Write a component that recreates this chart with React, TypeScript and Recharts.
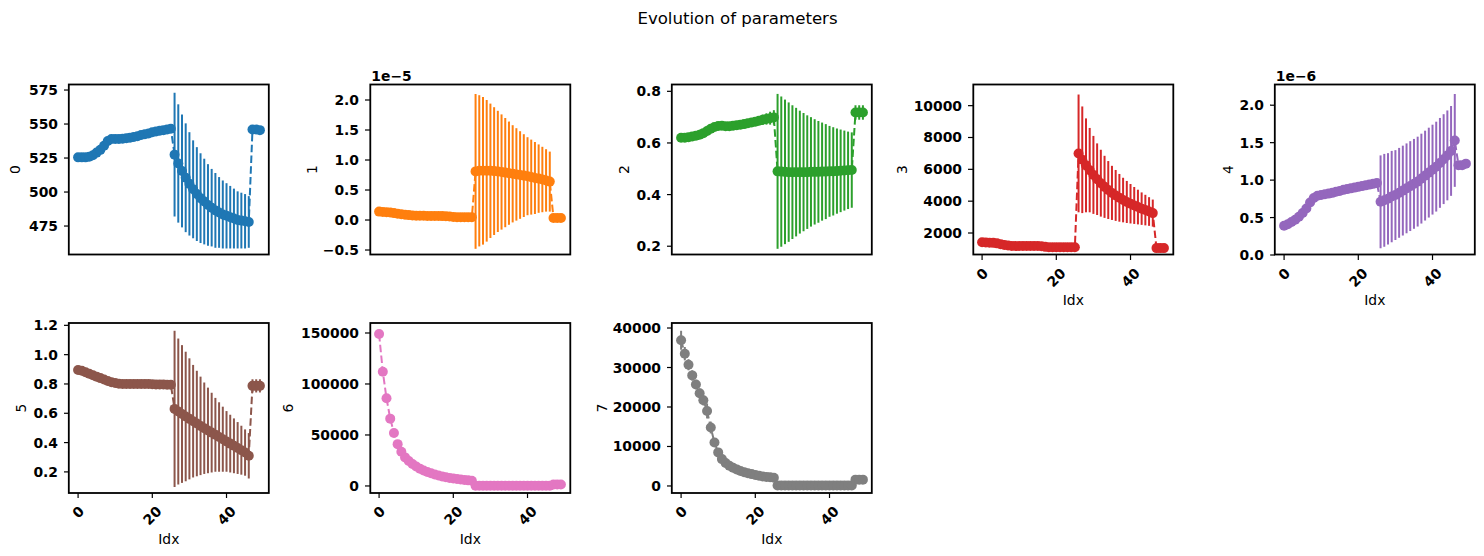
import { ComposedChart, Line, XAxis, YAxis, ErrorBar } from "recharts"

// sample index (x axis) for every parameter trace
const idx = Array.from({ length: 50 }, (_, i) => i)

// parameter traces; 1 is in units of 1e-5, 4 in units of 1e-6
const p0 = [
  525.5, 525.5, 525.5, 526, 527, 529, 531, 534, 537.5, 539,
  539, 539, 539.2, 539.5, 540, 540.5, 541, 542, 542.5, 543,
  544, 544.5, 545, 545.5, 546, 546.5,
  527.5, 521, 515.5, 510.5, 506, 502, 498.5, 495.5, 493, 490.5, 488.5,
  486.5, 485, 483.5, 482.5, 481.5, 480.5, 479.5, 479, 478.5, 478,
  546, 546, 545.5,
]
const p0Err = [
  0, 0, 0, 0, 0, 0, 0, 0, 0, 0,
  0, 0, 0, 0, 0, 0, 0, 0, 0, 0,
  0, 0, 0, 0, 0, 0,
  45.5, 43.5, 41.5, 40, 38, 36, 34.5, 33, 31.5, 30, 28.5,
  27.5, 26, 25, 24, 23, 22, 21, 20.5, 20, 19,
  0, 0, 0,
]

const p1 = [
  0.14, 0.135, 0.13, 0.125, 0.115, 0.105, 0.095, 0.088, 0.082, 0.077,
  0.073, 0.07, 0.07, 0.068, 0.068, 0.067, 0.066, 0.065, 0.063, 0.06,
  0.052, 0.048, 0.046, 0.045, 0.045, 0.045,
  0.81, 0.82, 0.82, 0.82, 0.82, 0.815, 0.81, 0.8, 0.79, 0.78, 0.77,
  0.76, 0.75, 0.74, 0.73, 0.715, 0.7, 0.69, 0.675, 0.66, 0.64,
  0.035, 0.035, 0.035,
]
const p1Err = [
  0, 0, 0, 0, 0, 0, 0, 0, 0, 0,
  0, 0, 0, 0, 0, 0, 0, 0, 0, 0,
  0, 0, 0, 0, 0, 0,
  1.29, 1.26, 1.23, 1.18, 1.12, 1.065, 1.01, 0.96, 0.91, 0.86, 0.81,
  0.77, 0.73, 0.69, 0.65, 0.625, 0.6, 0.57, 0.545, 0.52, 0.5,
  0, 0, 0,
]

const p2 = [
  0.62, 0.62, 0.622, 0.625, 0.628, 0.632, 0.638, 0.646, 0.655, 0.662,
  0.666, 0.667, 0.665, 0.665, 0.667, 0.669, 0.671, 0.673, 0.676, 0.679,
  0.682, 0.686, 0.69, 0.693, 0.696, 0.699,
  0.49, 0.489, 0.488, 0.487, 0.487, 0.487, 0.487, 0.487, 0.487, 0.488, 0.488,
  0.488, 0.489, 0.489, 0.49, 0.49, 0.491, 0.492, 0.493, 0.494, 0.495,
  0.718, 0.718, 0.718,
]
const p2Err = [
  0, 0, 0, 0, 0, 0, 0, 0, 0, 0,
  0, 0, 0, 0, 0, 0, 0, 0, 0, 0,
  0, 0.015, 0.02, 0.022, 0.025, 0.028,
  0.3, 0.291, 0.28, 0.27, 0.259, 0.249, 0.238, 0.229, 0.22, 0.212, 0.204,
  0.197, 0.19, 0.184, 0.176, 0.171, 0.165, 0.16, 0.155, 0.15, 0.146,
  0.028, 0.028, 0.028,
]

const p3 = [
  1420, 1400, 1390, 1380, 1350, 1300, 1250, 1210, 1190, 1180,
  1180, 1180, 1180, 1180, 1180, 1180, 1170, 1130, 1110, 1100,
  1100, 1100, 1100, 1100, 1100, 1100,
  7000, 6600, 6250, 5950, 5650, 5380, 5130, 4900, 4700, 4520, 4360,
  4210, 4070, 3950, 3840, 3730, 3630, 3530, 3440, 3350, 3250,
  1050, 1050, 1050,
]
const p3Err = [
  0, 0, 0, 0, 0, 0, 0, 0, 0, 0,
  0, 0, 0, 0, 0, 0, 0, 0, 0, 0,
  0, 0, 0, 0, 0, 0,
  3700, 3350, 2950, 2650, 2450, 2250, 2100, 1950, 1820, 1700, 1600,
  1500, 1400, 1320, 1240, 1160, 1090, 1020, 960, 900, 850,
  0, 0, 0,
]

const p4 = [
  0.39, 0.41, 0.44, 0.47, 0.51, 0.56, 0.62, 0.7, 0.76, 0.79,
  0.8, 0.81, 0.82, 0.83, 0.845, 0.855, 0.87, 0.88, 0.89, 0.9,
  0.91, 0.92, 0.93, 0.94, 0.95, 0.96,
  0.71, 0.73, 0.75, 0.78, 0.8, 0.83, 0.86, 0.89, 0.92, 0.95, 0.98,
  1.02, 1.06, 1.1, 1.14, 1.18, 1.23, 1.28, 1.33, 1.39, 1.53,
  1.2, 1.2, 1.22,
]
const p4Err = [
  0, 0, 0, 0, 0, 0, 0, 0, 0, 0,
  0, 0, 0, 0, 0, 0, 0, 0, 0, 0,
  0, 0, 0, 0, 0, 0,
  0.62, 0.62, 0.61, 0.61, 0.6, 0.6, 0.6, 0.6, 0.6, 0.6, 0.6,
  0.6, 0.6, 0.6, 0.6, 0.6, 0.6, 0.6, 0.6, 0.6, 0.62,
  0, 0, 0,
]

const p5 = [
  0.895, 0.89, 0.88, 0.87, 0.86, 0.85, 0.84, 0.83, 0.82, 0.812,
  0.806, 0.802, 0.8, 0.8, 0.8, 0.8, 0.8, 0.8, 0.8, 0.8,
  0.798, 0.797, 0.796, 0.796, 0.795, 0.795,
  0.63, 0.612, 0.595, 0.578, 0.562, 0.546, 0.53, 0.514, 0.498, 0.483, 0.468,
  0.453, 0.438, 0.423, 0.408, 0.393, 0.378, 0.363, 0.348, 0.332, 0.31,
  0.787, 0.787, 0.787,
]
const p5Err = [
  0, 0, 0, 0, 0, 0, 0, 0, 0, 0,
  0, 0, 0, 0, 0, 0, 0, 0, 0, 0,
  0, 0, 0, 0, 0, 0,
  0.533, 0.498, 0.47, 0.442, 0.413, 0.384, 0.36, 0.336, 0.312, 0.292, 0.272,
  0.252, 0.237, 0.222, 0.207, 0.197, 0.187, 0.177, 0.167, 0.158, 0.155,
  0.045, 0.045, 0.045,
]

const p6 = [
  149000, 112000, 86000, 66000, 52000, 41000, 33500, 28000, 24500, 21500,
  19000, 17000, 15200, 13700, 12400, 11300, 10300, 9400, 8600, 7900,
  7300, 6800, 6300, 5900, 5500, 5100,
  300, 300, 300, 300, 300, 300, 300, 300, 300, 300, 300,
  300, 300, 300, 300, 300, 300, 300, 300, 300, 300,
  1500, 1500, 1500,
]
const p6Err = [
  0, 0, 0, 0, 0, 0, 0, 0, 0, 0,
  0, 0, 0, 0, 0, 0, 0, 0, 0, 0,
  0, 0, 0, 0, 0, 0,
  0, 0, 0, 0, 0, 0, 0, 0, 0, 0, 0,
  0, 0, 0, 0, 0, 0, 0, 0, 0, 0,
  0, 0, 0,
]

const p7 = [
  36900, 33500, 30700, 28000, 25700, 23500, 21700, 19000, 14800, 11000,
  8500, 6800, 5800, 5100, 4600, 4200, 3800, 3500, 3200, 3000,
  2800, 2600, 2400, 2300, 2200, 2100,
  100, 100, 100, 100, 100, 100, 100, 100, 100, 100, 100,
  100, 100, 100, 100, 100, 100, 100, 100, 100, 100,
  1600, 1600, 1600,
]
const p7Err = [
  2400, 1700, 1400, 1300, 1200, 1200, 1300, 1900, 1500, 1000,
  700, 500, 0, 0, 0, 0, 0, 0, 0, 0,
  0, 0, 0, 0, 0, 0,
  0, 0, 0, 0, 0, 0, 0, 0, 0, 0, 0,
  0, 0, 0, 0, 0, 0, 0, 0, 0, 0,
  0, 0, 0,
]

const xTicks = [0, 20, 40]

const FONT = "DejaVu Sans"
const FS = 13.9
const PLOT_W = 200
const PLOT_H = 170
const ML = 75
const MR = 5
const MT = 10
const MB = 50

const fmtInt = (v: number) => String(v)
const fmt1 = (v: number) => (v < 0 ? "\u2212" + Math.abs(v).toFixed(1) : v.toFixed(1))

const panels = [
  { name: "0", values: p0, err: p0Err, color: "#1f77b4", domain: [453.7, 578.7], ticks: [475, 500, 525, 550, 575], fmt: fmtInt, left: 68.8, top: 84.5, xLabels: false, labelX: 15, offset: "" },
  { name: "1", values: p1, err: p1Err, color: "#ff7f0e", domain: [-0.583, 2.25], ticks: [-0.5, 0, 0.5, 1, 1.5, 2], fmt: fmt1, left: 370.3, top: 84.5, xLabels: false, labelX: 311.7, offset: "1e\u22125" },
  { name: "2", values: p2, err: p2Err, color: "#2ca02c", domain: [0.166, 0.8245], ticks: [0.2, 0.4, 0.6, 0.8], fmt: fmt1, left: 671.8, top: 84.5, xLabels: false, labelX: 624, offset: "" },
  { name: "3", values: p3, err: p3Err, color: "#d62728", domain: [618, 11298], ticks: [2000, 4000, 6000, 8000, 10000], fmt: fmtInt, left: 973.3, top: 84.5, xLabels: true, labelX: 902, offset: "" },
  { name: "4", values: p4, err: p4Err, color: "#9467bd", domain: [0, 2.27], ticks: [0, 0.5, 1, 1.5, 2], fmt: fmt1, left: 1274.8, top: 84.5, xLabels: true, labelX: 1227.5, offset: "1e\u22126" },
  { name: "5", values: p5, err: p5Err, color: "#8c564b", domain: [0.056, 1.216], ticks: [0.2, 0.4, 0.6, 0.8, 1, 1.2], fmt: fmt1, left: 68.8, top: 323, xLabels: true, labelX: 20.7, offset: "" },
  { name: "6", values: p6, err: p6Err, color: "#e377c2", domain: [-6900, 159800], ticks: [0, 50000, 100000, 150000], fmt: fmtInt, left: 370.3, top: 323, xLabels: true, labelX: 288, offset: "" },
  { name: "7", values: p7, err: p7Err, color: "#7f7f7f", domain: [-1780, 41270], ticks: [0, 10000, 20000, 30000, 40000], fmt: fmtInt, left: 671.8, top: 323, xLabels: true, labelX: 601.7, offset: "" },
]

// x tick label rotated 45deg, its bounding box centred under the tick
function RotatedTick(props: any) {
  const { x, y, payload } = props
  const s = String(payload.value)
  const w = s.length * 0.696 * FS
  const h = FS * 1.16
  const cy = y + (w + h) / (2 * Math.SQRT2)
  return (
    <text
      x={x}
      y={cy}
      textAnchor="middle"
      dominantBaseline="central"
      transform={`rotate(-45 ${x} ${cy})`}
      fontFamily={FONT}
      fontSize={FS}
      fontWeight="bold"
      fill="#000"
    >
      {s}
    </text>
  )
}

function YTick(props: any) {
  const { x, y, payload, fmt } = props
  return (
    <text x={x} y={y} textAnchor="end" dominantBaseline="central" fontFamily={FONT} fontSize={FS} fontWeight="bold" fill="#000">
      {fmt(payload.value)}
    </text>
  )
}

function Panel({ p }: { p: (typeof panels)[number] }) {
  const rows = idx.map((i) => ({ i, v: p.values[i], e: p.err[i] }))
  return (
    <div style={{ position: "absolute", left: p.left - ML, top: p.top - MT }}>
      <ComposedChart
        width={ML + PLOT_W + MR}
        height={MT + PLOT_H + MB}
        data={rows}
        margin={{ top: MT, right: MR, bottom: 0, left: 0 }}
      >
        <XAxis
          dataKey="i"
          type="number"
          domain={[-2.45, 51.45]}
          ticks={xTicks}
          interval={0}
          allowDataOverflow
          height={MB}
          axisLine={false}
          tickLine={{ stroke: "#000", strokeWidth: 1.2 }}
          tickSize={5}
          tickMargin={5}
          tick={p.xLabels ? <RotatedTick /> : false}
        />
        <YAxis
          type="number"
          domain={p.domain}
          ticks={p.ticks}
          interval={0}
          allowDataOverflow
          width={ML}
          axisLine={false}
          tickLine={{ stroke: "#000", strokeWidth: 1.2 }}
          tickSize={5}
          tickMargin={6}
          tick={(props: any) => <YTick {...props} fmt={p.fmt} />}
        />
        <Line
          type="linear"
          dataKey="v"
          stroke={p.color}
          strokeWidth={2}
          strokeDasharray="7.5 3.3"
          dot={{ r: 5, fill: p.color, stroke: "none" }}
          activeDot={false}
          isAnimationActive={false}
        >
          <ErrorBar dataKey="e" width={0} stroke={p.color} strokeWidth={2} direction="y" />
        </Line>
      </ComposedChart>
    </div>
  )
}

export default function App() {
  return (
    <div
      style={{
        position: "fixed",
        left: 0,
        top: 0,
        width: 1484,
        height: 556,
        overflow: "hidden",
        background: "#fff",
        fontFamily: FONT,
      }}
    >
      {panels.map((p) => (
        <Panel key={p.name} p={p} />
      ))}
      <svg
        width={1484}
        height={556}
        style={{ position: "absolute", left: 0, top: 0, pointerEvents: "none" }}
        fontFamily={FONT}
      >
        <text x={737.5} y={24.3} textAnchor="middle" fontSize={16.6} fill="#000">
          Evolution of parameters
        </text>
        {panels.map((p) => (
          <g key={p.name}>
            <rect x={p.left} y={p.top} width={PLOT_W} height={PLOT_H} fill="none" stroke="#000" strokeWidth={1.8} />
            <text
              x={p.labelX}
              y={p.top + PLOT_H / 2}
              textAnchor="middle"
              dominantBaseline="central"
              transform={`rotate(-90 ${p.labelX} ${p.top + PLOT_H / 2})`}
              fontSize={FS}
              fill="#000"
            >
              {p.name}
            </text>
            {p.xLabels && (
              <text x={p.left + PLOT_W / 2} y={p.top + PLOT_H + 50.5} textAnchor="middle" fontSize={FS} fill="#000">
                Idx
              </text>
            )}
            {p.offset && (
              <text x={p.left + 1} y={p.top - 3.5} fontSize={FS} fontWeight="bold" fill="#000">
                {p.offset}
              </text>
            )}
          </g>
        ))}
      </svg>
    </div>
  )
}
